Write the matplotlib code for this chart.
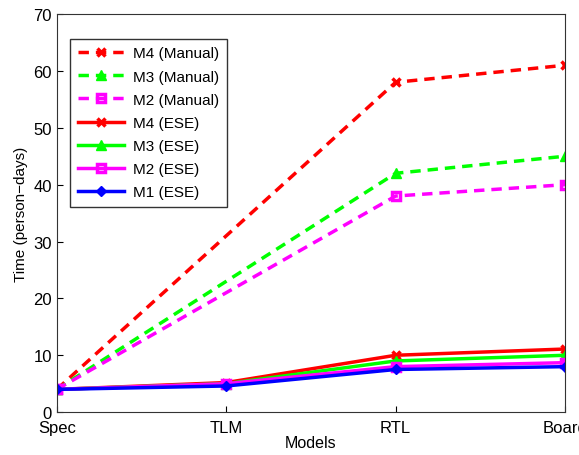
import numpy as np
import matplotlib.pyplot as plt

plt.rcParams['font.family'] = ['Liberation Sans', 'DejaVu Sans']

models = ["Spec", "TLM", "RTL", "Board"]

# Manual estimates only exist for Spec, RTL and Board
manual_idx = [0, 2, 3]
m4_manual = [4, 58, 61]
m3_manual = [4, 42, 45]
m2_manual = [4, 38, 40]

m4_ese = [4, 5.2, 10, 11.1]
m3_ese = [4, 5.0, 9, 10]
m2_ese = [4, 5.0, 8, 8.7]
m1_ese = [4, 4.6, 7.5, 8]

x = np.arange(len(models))

fig = plt.figure(figsize=(5.79, 4.56), dpi=100)
ax = fig.add_axes([0.098, 0.094, 0.878, 0.873])

lw = 2.5
dash = (3, 2)
ax.plot(manual_idx, m4_manual, color="red", linestyle="--", dashes=dash, linewidth=lw,
        marker="x", markersize=6, markeredgewidth=2.5, label="M4 (Manual)")
ax.plot(manual_idx, m3_manual, color="#00ff00", linestyle="--", dashes=dash, linewidth=lw,
        marker="^", markersize=7, label="M3 (Manual)")
ax.plot(manual_idx, m2_manual, color="magenta", linestyle="--", dashes=dash, linewidth=lw,
        marker="s", markersize=6, markerfacecolor="none", markeredgewidth=2.5,
        label="M2 (Manual)")
ax.plot(x, m4_ese, color="red", linestyle="-", linewidth=lw,
        marker="x", markersize=6, markeredgewidth=2.5, label="M4 (ESE)")
ax.plot(x, m3_ese, color="#00ff00", linestyle="-", linewidth=lw,
        marker="^", markersize=7, label="M3 (ESE)")
ax.plot(x, m2_ese, color="magenta", linestyle="-", linewidth=lw,
        marker="s", markersize=6, markerfacecolor="none", markeredgewidth=2.5,
        label="M2 (ESE)")
ax.plot(x, m1_ese, color="blue", linestyle="-", linewidth=lw,
        marker="D", markersize=5.5, label="M1 (ESE)")

ax.set_xlim(0, 3)
ax.set_ylim(0, 70)
ax.set_xticks(x)
ax.set_xticklabels(models)
ax.set_yticks(np.arange(0, 71, 10))
ax.tick_params(direction="in", labelsize=12, length=4)
ax.tick_params(axis="x", pad=6)
for s in ax.spines.values():
    s.set_color("#333333")
ax.set_xlabel("Models", fontsize=11.5, labelpad=0)
ax.set_ylabel("Time (person\u2212days)", fontsize=11)

leg = ax.legend(loc="upper left", bbox_to_anchor=(0.012, 0.957), fontsize=11,
                frameon=True, fancybox=False, handlelength=3.0,
                labelspacing=0.6, borderpad=0.5, handletextpad=0.6)
leg.get_frame().set_edgecolor("black")
leg.get_frame().set_linewidth(1)

fig.savefig("out.png", dpi=100)
